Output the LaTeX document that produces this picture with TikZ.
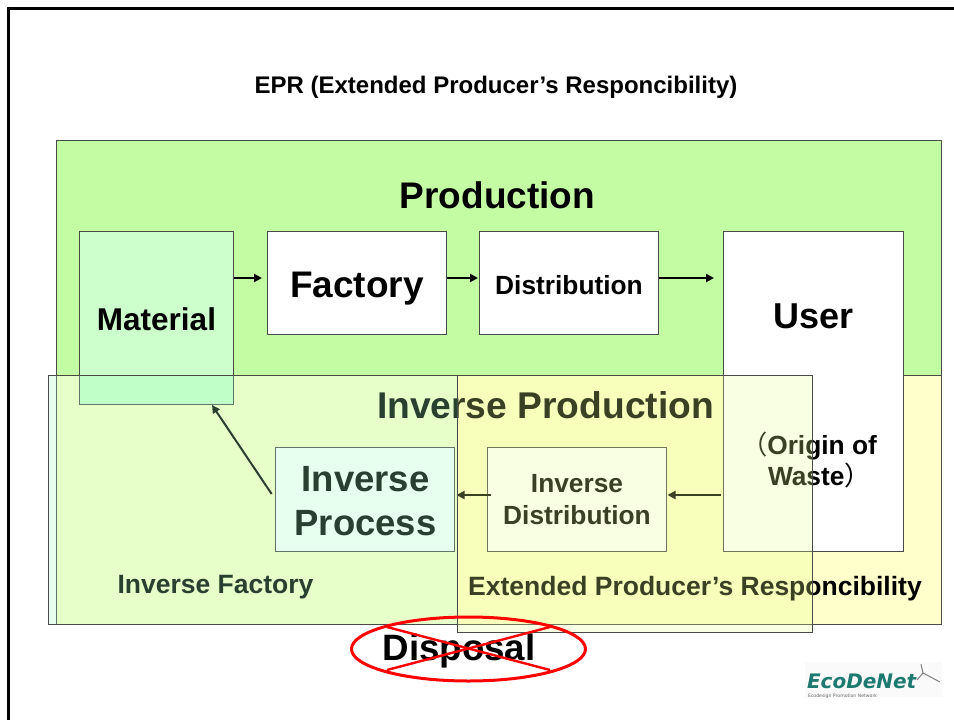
\documentclass[tikz,border=0pt]{standalone}
\usepackage{fontspec}
\setmainfont{Liberation Sans}
\newfontfamily\logofont{DejaVu Sans}
\newfontfamily\cjkparen{Noto Sans CJK SC}
\usetikzlibrary{arrows.meta,shapes.geometric}
\definecolor{edgegrey}{HTML}{4A4A4A}
\definecolor{prodgreen}{HTML}{C4FCA4}
\definecolor{paleyellow}{HTML}{FFFFCC}
\definecolor{matgreen}{HTML}{CCFFCC}
\definecolor{leftveil}{HTML}{A3FFC3}
\definecolor{rightveil}{HTML}{E6FF8C}
\definecolor{logoteal}{HTML}{1D7A70}
\tikzset{
  x=1pt,y=-1pt,
  every node/.style={inner sep=0pt,outer sep=0pt,font=\bfseries},
  panel/.style={draw=edgegrey,line width=1pt,anchor=north west},
  label/.style={anchor=base,text=black},
  veil/.style={panel,fill opacity=.25,draw opacity=1},
  flow/.style={draw=black,line width=2pt,-{Triangle[length=8pt,width=8pt]}},
  cross/.style={draw=red,line width=2.4pt},
  sz/.style 2 args={font=\bfseries\fontsize{#1}{#2}\selectfont}
}
\begin{document}
\begin{tikzpicture}
\useasboundingbox (0,0) rectangle (954,720);
% slide frame
\coordinate (ftl) at (8,8);
\coordinate (ftr) at (954,8);
\coordinate (fbl) at (8,720);
\draw[line width=3pt,line cap=rect] (ftr) -- (ftl) -- (fbl);

\node[label,sz={24}{28}] (title) at (496,93) {EPR (Extended Producer’s Responcibility)};

% base panels
\node[panel,fill=prodgreen,minimum width=885,minimum height=235] (prod) at (56,140) {};
\node[panel,fill=paleyellow,minimum width=885,minimum height=249] (inv) at (56,375) {};
\node[label,sz={37}{40}] (prodlabel) at (497.5,208) {Production};

% process boxes
\node[panel,fill=matgreen,minimum width=154.5,minimum height=173.5] (mat) at (79,231) {};
\node[panel,fill=white,minimum width=179.5,minimum height=103.5] (fac) at (267,231) {};
\node[panel,fill=white,minimum width=179.5,minimum height=103.5] (dis) at (479,231) {};
\node[panel,fill=white,minimum width=180,minimum height=320] (usr) at (723,231) {};
\node[panel,fill=white,minimum width=179.5,minimum height=104] (ip) at (275,447) {};
\node[panel,fill=white,minimum width=179.5,minimum height=104] (id) at (487,447) {};

\node[label,sz={31.5}{34}] (matlabel) at (156.5,330) {Material};
\node[label,sz={37}{40}] (faclabel) at (357,297) {Factory};
\node[label,sz={26.3}{31}] (dislabel) at (569,294) {Distribution};
\node[label,sz={36}{40}] (usrlabel) at (813.5,328) {User};
\node[anchor=west,sz={26.3}{31},align=left] (orig) at (741,460) {{\cjkparen\mdseries （}Origin of\\\hspace*{27pt}Waste{\cjkparen\mdseries ）}};

\node[label,sz={37.2}{40}] (invprod) at (545.5,418) {Inverse Production};
\node[sz={36.5}{44.5},align=center] (iplabel) at (365.5,501) {Inverse\\Process};
\node[sz={26.3}{32},align=center] (idlabel) at (577,500) {Inverse\\Distribution};
\node[label,sz={26.5}{30}] (iflabel) at (215.5,593) {Inverse Factory};
\node[label,sz={26.5}{31}] (eprlabel) at (695,595) {Extended Producer’s Responcibility};

% arrows
\coordinate (rowa) at (0,278);
\coordinate (rowb) at (0,495);
\coordinate (matfoot) at (212,405);
\draw[flow,shorten >=5pt] (mat.east |- rowa) -- (fac.west |- rowa);
\draw[flow,shorten >=1pt] (fac.east |- rowa) -- (dis.west |- rowa);
\draw[flow,shorten >=9pt] (dis.east |- rowa) -- (usr.west |- rowa);
\draw[flow,shorten <=2pt,shorten >=1pt] (usr.west |- rowb) -- (id.east |- rowb);
\draw[flow,shorten <=-4pt,shorten >=2pt] (id.west |- rowb) -- (ip.east |- rowb);
\draw[flow,shorten <=6pt] (ip.west) -- (matfoot);

% translucent overlays
\node[veil,fill=leftveil,minimum width=409,minimum height=249] (left) at (48,375) {};
\node[veil,fill=rightveil,minimum width=355,minimum height=257] (right) at (457,375) {};

% disposal
\node[label,sz={36.7}{40}] (disp) at (459,660) {Disposal};
\node[ellipse,draw=red,line width=3pt,minimum width=234,minimum height=64] (oval) at (468.5,649) {};
\coordinate (xa) at (387,627);
\coordinate (xb) at (550,670);
\coordinate (xc) at (387,670);
\coordinate (xd) at (550,627);
\draw[cross] (xa) -- (xb);
\draw[cross] (xc) -- (xd);

% logo
\node[anchor=north west,fill=black!2,minimum width=137,minimum height=35] (logobg) at (805,662) {};
\node[anchor=base west,text=logoteal,font=\logofont\bfseries\itshape\fontsize{20}{22}\selectfont] (logo) at (807,688) {EcoDeNet};
\node[anchor=base west,text=black!60,font=\logofont\fontsize{4.6}{5}\selectfont] (logosub) at (808,697) {Ecodesign Promotion Network};
\coordinate (bird) at (923,673);
\coordinate (birdtail) at (940,682);
\coordinate (birdhead) at (921,664);
\coordinate (birdwing) at (917,680);
\draw[black!50,line width=1pt] (birdhead) -- (bird) -- (birdtail);
\draw[black!50,line width=1pt] (bird) -- (birdwing);
\end{tikzpicture}
\end{document}
